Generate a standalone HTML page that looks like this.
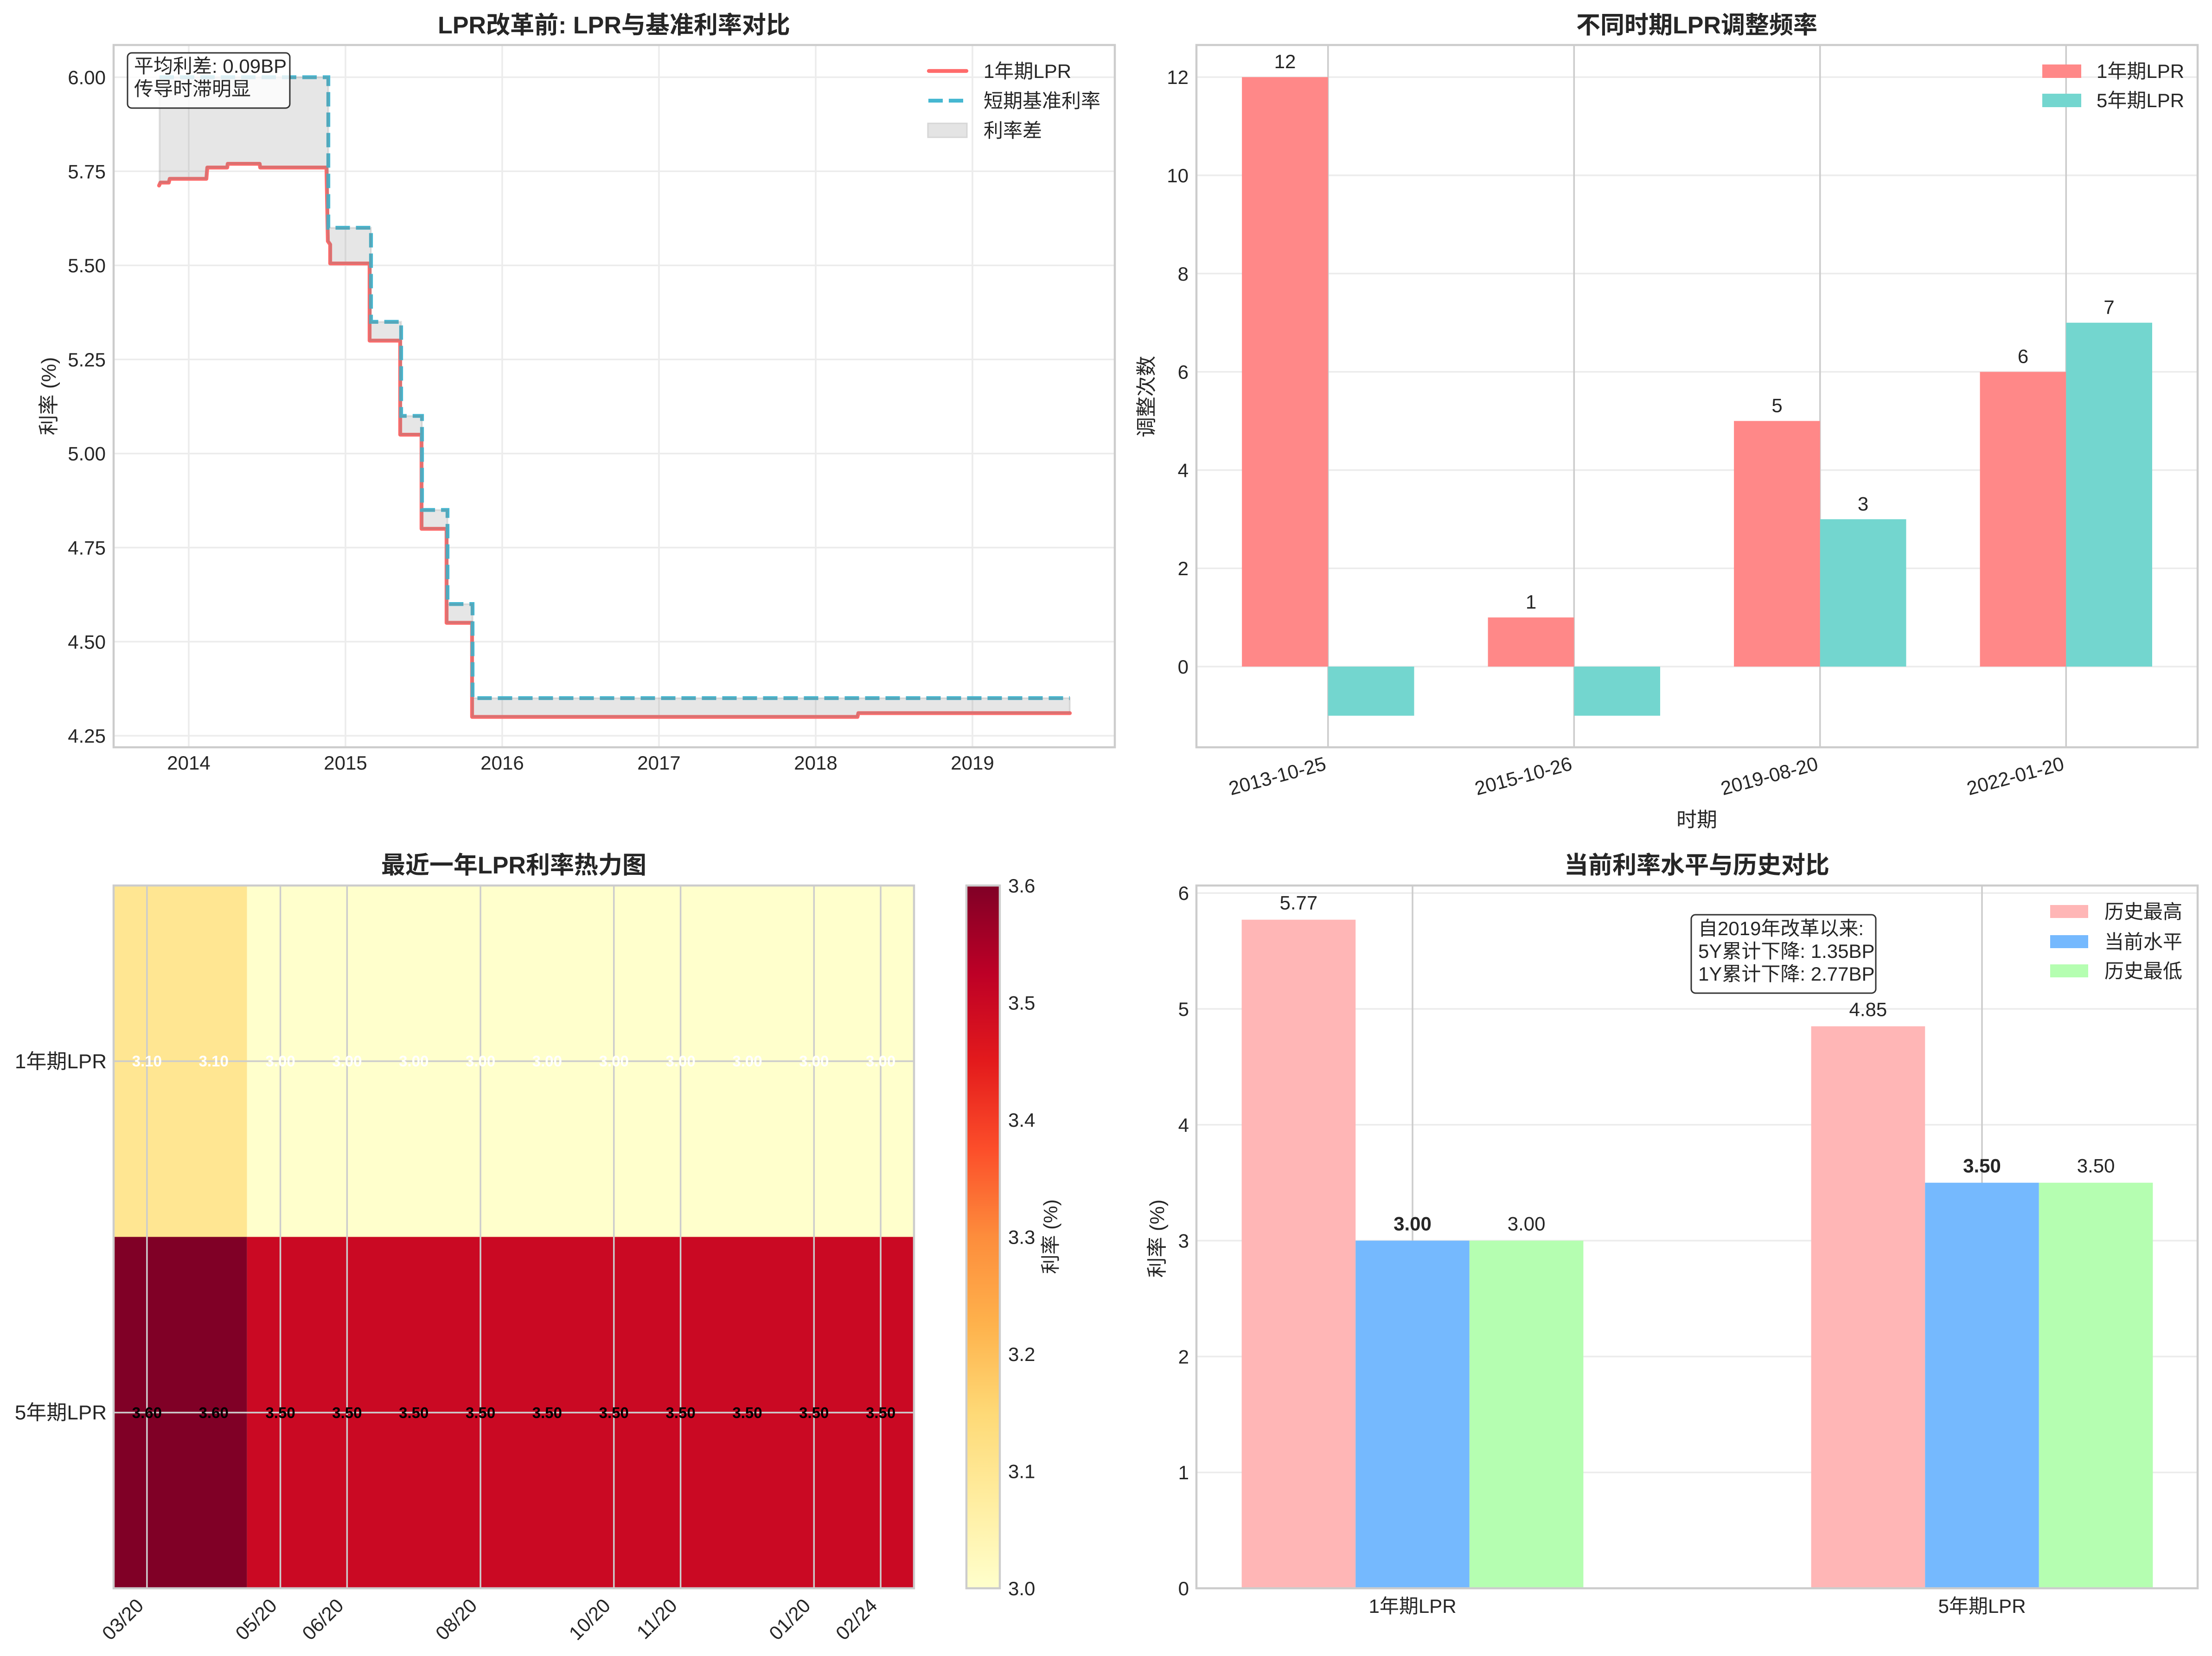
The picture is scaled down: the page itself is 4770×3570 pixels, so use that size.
<!DOCTYPE html>
<html><head><meta charset="utf-8"><style>
html,body{margin:0;padding:0;background:#fff;}
svg{display:block;}
text{font-family:"Liberation Sans","Noto Sans CJK SC",sans-serif;fill:#262626;}
.t{font-size:42px;}
.ti{font-size:52px;font-weight:bold;}
.lb{font-size:44px;}
</style></head><body>
<svg width="4770" height="3570" viewBox="0 0 4770 3570" xmlns="http://www.w3.org/2000/svg">
<defs>
<linearGradient id="cb" x1="0" y1="1" x2="0" y2="0">
<stop offset="0" stop-color="#ffffcc"/><stop offset="0.125" stop-color="#ffeda0"/><stop offset="0.25" stop-color="#fed976"/><stop offset="0.375" stop-color="#feb24c"/><stop offset="0.5" stop-color="#fd8d3c"/><stop offset="0.625" stop-color="#fc4e2a"/><stop offset="0.75" stop-color="#e31a1c"/><stop offset="0.875" stop-color="#bd0026"/><stop offset="1" stop-color="#800026"/>
</linearGradient>
</defs>
<rect width="4770" height="3570" fill="#fff"/>

<!-- ============ TOP LEFT ============ -->
<g stroke="#ececec" stroke-width="3.5">
<line x1="245" x2="2404" y1="166.5" y2="166.5"/><line x1="245" x2="2404" y1="369.3" y2="369.3"/><line x1="245" x2="2404" y1="572.1" y2="572.1"/><line x1="245" x2="2404" y1="774.9" y2="774.9"/><line x1="245" x2="2404" y1="977.7" y2="977.7"/><line x1="245" x2="2404" y1="1180.5" y2="1180.5"/><line x1="245" x2="2404" y1="1383.3" y2="1383.3"/><line x1="245" x2="2404" y1="1586.1" y2="1586.1"/>
<line y1="97" y2="1611" x1="407" x2="407"/><line y1="97" y2="1611" x1="745" x2="745"/><line y1="97" y2="1611" x1="1083" x2="1083"/><line y1="97" y2="1611" x1="1421" x2="1421"/><line y1="97" y2="1611" x1="1759" x2="1759"/><line y1="97" y2="1611" x1="2097" x2="2097"/>
</g>
<path d="M343,400 L346,393.6 H364 L366,385.5 H445 L447,361.2 H490 L491,353.1 H560 L561,361.2 H704 L707,520 L712,527 V568 H797 V734.3 H863 V937.1 H909 V1140 H963 V1342.7 H1018 V1545.5 H1849 L1851,1537.4 H2307" fill="none" stroke="#ff6b6b" stroke-width="8.3" stroke-linecap="round" stroke-linejoin="round"/>
<path d="M344,166.5 H708 V491 H800 V693.8 H865 V896.6 H910 V1099.4 H965 V1302.2 H1019 V1505 H2307" fill="none" stroke="#45b7d1" stroke-width="8.3" stroke-dasharray="31,13"/>
<polygon points="344,166.5 708,166.5 708,491 800,491 800,693.8 865,693.8 865,896.6 910,896.6 910,1099.4 965,1099.4 965,1302.2 1019,1302.2 1019,1505 2307,1505 2307,1537.4 1851,1537.4 1849,1545.5 1018,1545.5 1018,1342.7 963,1342.7 963,1140 909,1140 909,937.1 863,937.1 863,734.3 797,734.3 797,568 712,568 712,527 707,520 704,361.2 561,361.2 560,353.1 491,353.1 490,361.2 447,361.2 445,385.5 366,385.5 364,393.6 346,393.6 344,400" fill="rgba(128,128,128,0.2)" stroke="rgba(128,128,128,0.2)" stroke-width="4"/>
<rect x="245" y="97" width="2159" height="1514" fill="none" stroke="#cccccc" stroke-width="4.5"/>
<!-- textbox -->
<rect x="275" y="114" width="350" height="119" rx="9" fill="rgba(255,255,255,0.8)" stroke="#333" stroke-width="3"/>
<text class="t" x="289" y="157">平均利差: 0.09BP</text>
<text class="t" x="289" y="206">传导时滞明显</text>
<!-- legend -->
<line x1="2003" x2="2084" y1="153" y2="153" stroke="#ff6b6b" stroke-width="8.3" stroke-linecap="round"/>
<line x1="2002" x2="2088" y1="217" y2="217" stroke="#45b7d1" stroke-width="8.3" stroke-dasharray="31,13"/>
<rect x="2001" y="266" width="84" height="30" fill="#e4e4e4" stroke="#d6d6d6" stroke-width="3"/>
<text class="t" x="2121" y="168">1年期LPR</text>
<text class="t" x="2121" y="232">短期基准利率</text>
<text class="t" x="2121" y="296">利率差</text>
<!-- ticks -->
<g class="t" text-anchor="end">
<text class="t" x="228" y="181.5">6.00</text><text class="t" x="228" y="384.3">5.75</text><text class="t" x="228" y="587.1">5.50</text><text class="t" x="228" y="789.9">5.25</text><text class="t" x="228" y="992.7">5.00</text><text class="t" x="228" y="1195.5">4.75</text><text class="t" x="228" y="1398.3">4.50</text><text class="t" x="228" y="1601.1">4.25</text>
</g>
<g text-anchor="middle">
<text class="t" x="407" y="1659">2014</text><text class="t" x="745" y="1659">2015</text><text class="t" x="1083" y="1659">2016</text><text class="t" x="1421" y="1659">2017</text><text class="t" x="1759" y="1659">2018</text><text class="t" x="2097" y="1659">2019</text>
</g>
<text class="lb" x="0" y="0" text-anchor="middle" transform="translate(120,854) rotate(-90)">利率 (%)</text>
<text class="ti" x="1324" y="72" text-anchor="middle">LPR改革前: LPR与基准利率对比</text>

<!-- ============ TOP RIGHT ============ -->
<g stroke="#ececec" stroke-width="3.5">
<line x1="2580" x2="4739" y1="1437" y2="1437"/><line x1="2580" x2="4739" y1="1225.2" y2="1225.2"/><line x1="2580" x2="4739" y1="1013.4" y2="1013.4"/><line x1="2580" x2="4739" y1="801.6" y2="801.6"/><line x1="2580" x2="4739" y1="589.8" y2="589.8"/><line x1="2580" x2="4739" y1="378" y2="378"/><line x1="2580" x2="4739" y1="166.2" y2="166.2"/>
</g>
<g stroke="#cccccc" stroke-width="3.5">
<line y1="97" y2="1611" x1="2863.8" x2="2863.8"/><line y1="97" y2="1611" x1="3394.3" x2="3394.3"/><line y1="97" y2="1611" x1="3924.8" x2="3924.8"/><line y1="97" y2="1611" x1="4455.3" x2="4455.3"/>
</g>
<g fill="#ff8888">
<rect x="2678.1" y="166.2" width="185.7" height="1270.8"/>
<rect x="3208.6" y="1331.1" width="185.7" height="105.9"/>
<rect x="3739.1" y="907.5" width="185.7" height="529.5"/>
<rect x="4269.6" y="801.6" width="185.7" height="635.4"/>
</g>
<g fill="#73d6cf">
<rect x="2863.8" y="1437" width="185.7" height="105.9"/>
<rect x="3394.3" y="1437" width="185.7" height="105.9"/>
<rect x="3924.8" y="1119.3" width="185.7" height="317.7"/>
<rect x="4455.3" y="695.7" width="185.7" height="741.3"/>
</g>
<g text-anchor="middle">
<text class="t" x="2771" y="147">12</text>
<text class="t" x="3301.5" y="1312">1</text>
<text class="t" x="3832" y="888.5">5</text>
<text class="t" x="4362.5" y="782.6">6</text>
<text class="t" x="4017.6" y="1100.3">3</text>
<text class="t" x="4548" y="676.7">7</text>
</g>
<rect x="2580" y="97" width="2159" height="1514" fill="none" stroke="#cccccc" stroke-width="4.5"/>
<g text-anchor="end">
<text class="t" x="2563" y="1452">0</text><text class="t" x="2563" y="1240.2">2</text><text class="t" x="2563" y="1028.4">4</text><text class="t" x="2563" y="816.6">6</text><text class="t" x="2563" y="604.8">8</text><text class="t" x="2563" y="393">10</text><text class="t" x="2563" y="181.2">12</text>
</g>
<g text-anchor="end">
<text class="t" transform="translate(2862,1659) rotate(-15)">2013-10-25</text>
<text class="t" transform="translate(3392.5,1659) rotate(-15)">2015-10-26</text>
<text class="t" transform="translate(3923,1659) rotate(-15)">2019-08-20</text>
<text class="t" transform="translate(4453.5,1659) rotate(-15)">2022-01-20</text>
</g>
<text class="lb" x="3659" y="1782" text-anchor="middle">时期</text>
<text class="lb" text-anchor="middle" transform="translate(2487,855) rotate(-90)">调整次数</text>
<rect x="4404" y="139" width="84" height="29" fill="#ff8888"/>
<rect x="4404" y="202" width="84" height="29" fill="#73d6cf"/>
<text class="t" x="4521" y="168">1年期LPR</text>
<text class="t" x="4521" y="231">5年期LPR</text>
<text class="ti" x="3659" y="72" text-anchor="middle">不同时期LPR调整频率</text>

<!-- ============ BOTTOM LEFT (heatmap) ============ -->
<rect x="245" y="1909" width="287.7" height="757.5" fill="#ffe692"/>
<rect x="532.7" y="1909" width="1438.3" height="757.5" fill="#ffffcc"/>
<rect x="245" y="2666.5" width="287.7" height="757.5" fill="#800026"/>
<rect x="532.7" y="2666.5" width="1438.3" height="757.5" fill="#ca0923"/>
<g stroke="#cccccc" stroke-width="3.5">
<line y1="1909" y2="3424" x1="316.9" x2="316.9"/><line y1="1909" y2="3424" x1="604.6" x2="604.6"/><line y1="1909" y2="3424" x1="748.4" x2="748.4"/><line y1="1909" y2="3424" x1="1036.1" x2="1036.1"/><line y1="1909" y2="3424" x1="1323.8" x2="1323.8"/><line y1="1909" y2="3424" x1="1467.6" x2="1467.6"/><line y1="1909" y2="3424" x1="1755.3" x2="1755.3"/><line y1="1909" y2="3424" x1="1899.1" x2="1899.1"/>
<line x1="245" x2="1971" y1="2287.75" y2="2287.75"/><line x1="245" x2="1971" y1="3045.25" y2="3045.25"/>
</g>
<g text-anchor="middle" font-size="33" font-weight="bold">
<text x="316.9" y="2299" style="fill:#fff">3.10</text><text x="460.7" y="2299" style="fill:#fff">3.10</text><text x="604.6" y="2299" style="fill:#fff">3.00</text><text x="748.4" y="2299" style="fill:#fff">3.00</text><text x="892.3" y="2299" style="fill:#fff">3.00</text><text x="1036.1" y="2299" style="fill:#fff">3.00</text><text x="1179.9" y="2299" style="fill:#fff">3.00</text><text x="1323.8" y="2299" style="fill:#fff">3.00</text><text x="1467.6" y="2299" style="fill:#fff">3.00</text><text x="1611.5" y="2299" style="fill:#fff">3.00</text><text x="1755.3" y="2299" style="fill:#fff">3.00</text><text x="1899.1" y="2299" style="fill:#fff">3.00</text>
<text x="316.9" y="3057" style="fill:#000">3.60</text><text x="460.7" y="3057" style="fill:#000">3.60</text><text x="604.6" y="3057" style="fill:#000">3.50</text><text x="748.4" y="3057" style="fill:#000">3.50</text><text x="892.3" y="3057" style="fill:#000">3.50</text><text x="1036.1" y="3057" style="fill:#000">3.50</text><text x="1179.9" y="3057" style="fill:#000">3.50</text><text x="1323.8" y="3057" style="fill:#000">3.50</text><text x="1467.6" y="3057" style="fill:#000">3.50</text><text x="1611.5" y="3057" style="fill:#000">3.50</text><text x="1755.3" y="3057" style="fill:#000">3.50</text><text x="1899.1" y="3057" style="fill:#000">3.50</text>
</g>
<rect x="245" y="1909" width="1726" height="1515" fill="none" stroke="#cccccc" stroke-width="4.5"/>
<g text-anchor="end">
<text x="230" y="2303" font-size="44">1年期LPR</text>
<text x="230" y="3060" font-size="44">5年期LPR</text>
</g>
<g text-anchor="end">
<text class="t" transform="translate(312,3464) rotate(-45)">03/20</text>
<text class="t" transform="translate(599.6,3464) rotate(-45)">05/20</text>
<text class="t" transform="translate(743.4,3464) rotate(-45)">06/20</text>
<text class="t" transform="translate(1031.1,3464) rotate(-45)">08/20</text>
<text class="t" transform="translate(1318.8,3464) rotate(-45)">10/20</text>
<text class="t" transform="translate(1462.6,3464) rotate(-45)">11/20</text>
<text class="t" transform="translate(1750.3,3464) rotate(-45)">01/20</text>
<text class="t" transform="translate(1894.1,3464) rotate(-45)">02/24</text>
</g>
<text class="ti" x="1108" y="1883" text-anchor="middle">最近一年LPR利率热力图</text>
<!-- colorbar -->
<rect x="2084" y="1909" width="72" height="1515" fill="url(#cb)" stroke="#cccccc" stroke-width="4.5"/>
<g>
<text class="t" x="2174" y="3439">3.0</text><text class="t" x="2174" y="3186.5">3.1</text><text class="t" x="2174" y="2934">3.2</text><text class="t" x="2174" y="2681.5">3.3</text><text class="t" x="2174" y="2429">3.4</text><text class="t" x="2174" y="2176.5">3.5</text><text class="t" x="2174" y="1924">3.6</text>
</g>
<text class="t" text-anchor="middle" transform="translate(2280,2666) rotate(-90)">利率 (%)</text>

<!-- ============ BOTTOM RIGHT ============ -->
<g stroke="#ececec" stroke-width="3.5">
<line x1="2580" x2="4739" y1="3174.2" y2="3174.2"/><line x1="2580" x2="4739" y1="2924.4" y2="2924.4"/><line x1="2580" x2="4739" y1="2674.6" y2="2674.6"/><line x1="2580" x2="4739" y1="2424.8" y2="2424.8"/><line x1="2580" x2="4739" y1="2175" y2="2175"/><line x1="2580" x2="4739" y1="1925.2" y2="1925.2"/>
</g>
<g stroke="#cccccc" stroke-width="3.5">
<line y1="1909" y2="3424" x1="3046" x2="3046"/><line y1="1909" y2="3424" x1="4274" x2="4274"/>
</g>
<rect x="2677.6" y="1982.7" width="245.6" height="1441.3" fill="#ffb6b6"/>
<rect x="2923.2" y="2674.6" width="245.6" height="749.4" fill="#75b9fe"/>
<rect x="3168.8" y="2674.6" width="245.6" height="749.4" fill="#b5feb1"/>
<rect x="3905.6" y="2212.5" width="245.6" height="1211.5" fill="#ffb6b6"/>
<rect x="4151.2" y="2549.7" width="245.6" height="874.3" fill="#75b9fe"/>
<rect x="4396.8" y="2549.7" width="245.6" height="874.3" fill="#b5feb1"/>
<g text-anchor="middle">
<text class="t" x="2800.4" y="1960.7">5.77</text>
<text class="t" x="3046" y="2652.6" font-weight="bold">3.00</text>
<text class="t" x="3291.6" y="2652.6">3.00</text>
<text class="t" x="4028.4" y="2190.5">4.85</text>
<text class="t" x="4274" y="2527.7" font-weight="bold">3.50</text>
<text class="t" x="4519.6" y="2527.7">3.50</text>
</g>
<rect x="2580" y="1909" width="2159" height="1515" fill="none" stroke="#cccccc" stroke-width="4.5"/>
<g text-anchor="end">
<text class="t" x="2564" y="3439">0</text><text class="t" x="2564" y="3189.2">1</text><text class="t" x="2564" y="2939.4">2</text><text class="t" x="2564" y="2689.6">3</text><text class="t" x="2564" y="2439.8">4</text><text class="t" x="2564" y="2190">5</text><text class="t" x="2564" y="1940.2">6</text>
</g>
<g text-anchor="middle">
<text class="t" x="3046" y="3477">1年期LPR</text>
<text class="t" x="4274" y="3477">5年期LPR</text>
</g>
<text class="lb" text-anchor="middle" transform="translate(2510,2670) rotate(-90)">利率 (%)</text>
<rect x="3647" y="1972" width="398" height="169" rx="9" fill="rgba(255,255,255,0.8)" stroke="#333" stroke-width="3"/>
<text class="t" x="3662" y="2016">自2019年改革以来:</text>
<text class="t" x="3662" y="2065">5Y累计下降: 1.35BP</text>
<text class="t" x="3662" y="2114">1Y累计下降: 2.77BP</text>
<rect x="4421" y="1951" width="82" height="28" fill="#ffb6b6"/>
<rect x="4421" y="2016" width="82" height="28" fill="#75b9fe"/>
<rect x="4421" y="2079" width="82" height="28" fill="#b5feb1"/>
<text class="t" x="4538" y="1980">历史最高</text>
<text class="t" x="4538" y="2045">当前水平</text>
<text class="t" x="4538" y="2108">历史最低</text>
<text class="ti" x="3659" y="1883" text-anchor="middle">当前利率水平与历史对比</text>
</svg>
</body></html>
